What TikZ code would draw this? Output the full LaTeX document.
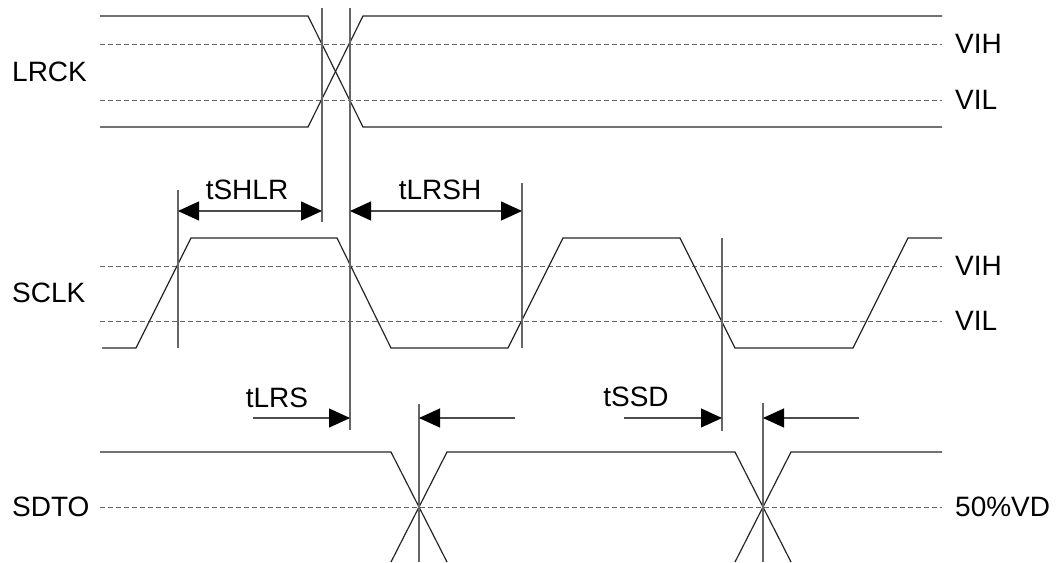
\documentclass[tikz,border=0pt]{standalone}
\usepackage{fontspec}
\setmainfont{Liberation Sans}
\usetikzlibrary{arrows.meta}
\begin{document}
\begin{tikzpicture}[x=1pt,y=-1pt,
  wave/.style={draw=black!85,line width=1.2pt,line join=miter},
  vline/.style={draw=black!60,line width=1.2pt},
  level/.style={draw=black!60,line width=1pt,dash pattern=on 5pt off 3pt},
  tip/.tip={Triangle[length=21pt,width=19pt,fill=black,color=black]},
  dimarrow/.style={draw=black!70,line width=1.2pt,-tip},
  dimboth/.style={draw=black!70,line width=1.2pt,tip-tip},
  lbl/.style={font=\fontsize{28}{30}\selectfont,inner sep=0pt,text=black}]
\useasboundingbox (0,0) rectangle (1057,562);
\clip (0,0) rectangle (1057,562);
% ---------- labels ----------
\node[lbl,anchor=west] (lrck) at (12,72) {LRCK};
\node[lbl,anchor=west] (sclk) at (12,293) {SCLK};
\node[lbl,anchor=west] (sdto) at (12,507) {SDTO};
\node[lbl,anchor=west] (vih1) at (955,44) {VIH};
\node[lbl,anchor=west] (vil1) at (955,100) {VIL};
\node[lbl,anchor=west] (vih2) at (955,266) {VIH};
\node[lbl,anchor=west] (vil2) at (955,321) {VIL};
\node[lbl,anchor=west] (vd) at (955,507) {50\%VD};
% ---------- level lines ----------
\draw[level] (100,44) -- (942,44);
\draw[level] (100,100) -- (942,100);
\draw[level] (100,266) -- (942,266);
\draw[level] (100,321) -- (942,321);
\draw[level] (100,507) -- (942,507);
% ---------- LRCK ----------
\draw[wave] (100,16) -- (308,16) -- (363,127) -- (942,127);
\draw[wave] (100,127) -- (308,127) -- (363,16) -- (942,16);
% ---------- SCLK ----------
\draw[wave] (102,348) -- (136,348) -- (191,238) -- (337,238) -- (391,348) -- (508,348)
  -- (563,238) -- (680,238) -- (735,348) -- (853,348) -- (908,238) -- (942,238);
% ---------- SDTO ----------
\draw[wave] (100,452) -- (391,452) -- (447,562);
\draw[wave] (391,562) -- (447,452) -- (735,452) -- (791,562);
\draw[wave] (735,562) -- (791,452) -- (942,452);
% ---------- reference verticals ----------
\coordinate (a1) at (322,8);   \coordinate (a2) at (322,222);
\coordinate (b1) at (350,8);   \coordinate (b2) at (350,430);
\coordinate (c1) at (178,190); \coordinate (c2) at (178,348);
\coordinate (d1) at (522,183); \coordinate (d2) at (522,348);
\coordinate (e1) at (722,238); \coordinate (e2) at (722,431);
\coordinate (f1) at (419,404); \coordinate (f2) at (419,562);
\coordinate (g1) at (763,403); \coordinate (g2) at (763,562);
\draw[vline] (a1) -- (a2);
\draw[vline] (b1) -- (b2);
\draw[vline] (c1) -- (c2);
\draw[vline] (d1) -- (d2);
\draw[vline] (e1) -- (e2);
\draw[vline] (f1) -- (f2);
\draw[vline] (g1) -- (g2);
% ---------- dimension arrows ----------
\coordinate (tshlrL) at (178,211); \coordinate (tshlrR) at (322,211);
\coordinate (tlrshL) at (350,211); \coordinate (tlrshR) at (522,211);
\draw[dimboth] (tshlrL) -- (tshlrR);
\draw[dimboth] (tlrshL) -- (tlrshR);
\node[lbl] (tshlr) at (247,190) {tSHLR};
\node[lbl] (tlrsh) at (440,190) {tLRSH};
\coordinate (lrsA) at (253,418); \coordinate (lrsB) at (350,418);
\coordinate (lrsC) at (515,418); \coordinate (lrsD) at (419,418);
\draw[dimarrow] (lrsA) -- (lrsB);
\draw[dimarrow] (lrsC) -- (lrsD);
\node[lbl] (tlrs) at (277,398) {tLRS};
\coordinate (ssdA) at (624,418); \coordinate (ssdB) at (722,418);
\coordinate (ssdC) at (859,418); \coordinate (ssdD) at (763,418);
\draw[dimarrow] (ssdA) -- (ssdB);
\draw[dimarrow] (ssdC) -- (ssdD);
\node[lbl] (tssd) at (636,397) {tSSD};
\end{tikzpicture}
\end{document}
